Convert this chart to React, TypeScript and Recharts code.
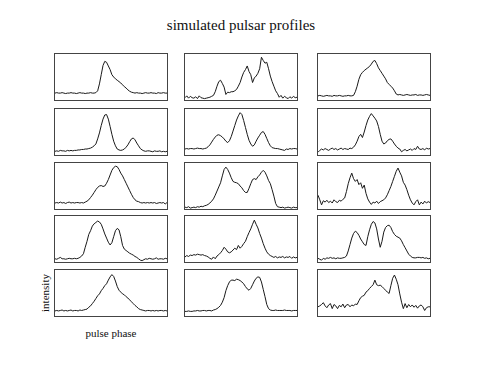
import { LineChart, Line, XAxis, YAxis } from "recharts";

// intensity per phase bin (64 bins), 0 = panel bottom, 1 = panel top
const profileA = [0.15, 0.16, 0.15, 0.15, 0.16, 0.15, 0.14, 0.15, 0.15, 0.16, 0.15, 0.15, 0.14, 0.15, 0.16, 0.15, 0.15, 0.14, 0.15, 0.15, 0.16, 0.15, 0.15, 0.16, 0.2, 0.35, 0.55, 0.75, 0.84, 0.82, 0.74, 0.66, 0.55, 0.5, 0.46, 0.43, 0.4, 0.37, 0.33, 0.29, 0.26, 0.22, 0.19, 0.17, 0.16, 0.15, 0.16, 0.15, 0.15, 0.14, 0.15, 0.16, 0.15, 0.15, 0.16, 0.15, 0.15, 0.14, 0.16, 0.15, 0.15, 0.16, 0.15, 0.15];
const profileB = [0.05, 0.09, 0.04, 0.08, 0.05, 0.04, 0.07, 0.03, 0.09, 0.05, 0.04, 0.03, 0.04, 0.05, 0.06, 0.08, 0.1, 0.18, 0.3, 0.4, 0.43, 0.36, 0.28, 0.12, 0.17, 0.16, 0.18, 0.18, 0.2, 0.23, 0.3, 0.38, 0.5, 0.6, 0.66, 0.74, 0.62, 0.55, 0.38, 0.48, 0.52, 0.58, 0.68, 0.93, 0.86, 0.8, 0.82, 0.68, 0.52, 0.4, 0.3, 0.2, 0.14, 0.06, 0.1, 0.04, 0.08, 0.05, 0.03, 0.07, 0.04, 0.08, 0.05, 0.06];
const profileC = [0.09, 0.1, 0.09, 0.08, 0.09, 0.1, 0.09, 0.09, 0.08, 0.1, 0.09, 0.09, 0.1, 0.09, 0.08, 0.09, 0.09, 0.1, 0.09, 0.09, 0.1, 0.18, 0.3, 0.45, 0.55, 0.6, 0.64, 0.67, 0.7, 0.73, 0.78, 0.84, 0.86, 0.79, 0.7, 0.64, 0.58, 0.52, 0.46, 0.38, 0.34, 0.3, 0.26, 0.2, 0.13, 0.11, 0.12, 0.11, 0.1, 0.11, 0.12, 0.11, 0.1, 0.11, 0.11, 0.12, 0.1, 0.11, 0.11, 0.1, 0.11, 0.12, 0.11, 0.1];
const profileD = [0.08, 0.09, 0.08, 0.1, 0.09, 0.09, 0.08, 0.1, 0.09, 0.1, 0.09, 0.1, 0.1, 0.11, 0.11, 0.12, 0.12, 0.13, 0.13, 0.14, 0.15, 0.17, 0.2, 0.24, 0.35, 0.48, 0.64, 0.78, 0.87, 0.88, 0.78, 0.62, 0.45, 0.3, 0.2, 0.13, 0.11, 0.1, 0.11, 0.13, 0.17, 0.22, 0.29, 0.35, 0.37, 0.33, 0.26, 0.2, 0.14, 0.11, 0.09, 0.08, 0.09, 0.09, 0.08, 0.07, 0.09, 0.08, 0.08, 0.09, 0.07, 0.08, 0.07, 0.08];
const profileE = [0.13, 0.14, 0.13, 0.14, 0.14, 0.13, 0.14, 0.15, 0.14, 0.14, 0.13, 0.14, 0.15, 0.18, 0.22, 0.28, 0.34, 0.39, 0.43, 0.44, 0.42, 0.39, 0.35, 0.3, 0.27, 0.31, 0.4, 0.52, 0.64, 0.76, 0.85, 0.92, 0.88, 0.75, 0.6, 0.45, 0.32, 0.24, 0.19, 0.22, 0.3, 0.37, 0.43, 0.49, 0.51, 0.45, 0.36, 0.27, 0.2, 0.16, 0.15, 0.14, 0.14, 0.13, 0.12, 0.11, 0.1, 0.13, 0.12, 0.14, 0.13, 0.14, 0.14, 0.13];
const profileF = [0.06, 0.1, 0.13, 0.11, 0.14, 0.12, 0.1, 0.13, 0.15, 0.12, 0.14, 0.11, 0.13, 0.15, 0.12, 0.14, 0.13, 0.12, 0.15, 0.14, 0.17, 0.22, 0.3, 0.4, 0.45, 0.38, 0.5, 0.64, 0.76, 0.84, 0.9, 0.85, 0.8, 0.74, 0.62, 0.45, 0.3, 0.24, 0.26, 0.31, 0.34, 0.35, 0.3, 0.24, 0.19, 0.15, 0.13, 0.07, 0.1, 0.12, 0.09, 0.11, 0.13, 0.1, 0.14, 0.12, 0.19, 0.13, 0.12, 0.14, 0.11, 0.15, 0.13, 0.14];
const profileG = [0.13, 0.14, 0.13, 0.15, 0.13, 0.14, 0.12, 0.14, 0.15, 0.13, 0.14, 0.13, 0.14, 0.14, 0.13, 0.14, 0.13, 0.15, 0.17, 0.2, 0.25, 0.3, 0.36, 0.42, 0.47, 0.5, 0.51, 0.49, 0.5, 0.56, 0.64, 0.74, 0.84, 0.9, 0.93, 0.92, 0.86, 0.78, 0.72, 0.64, 0.56, 0.48, 0.4, 0.32, 0.25, 0.2, 0.17, 0.16, 0.14, 0.13, 0.14, 0.13, 0.14, 0.13, 0.14, 0.13, 0.14, 0.12, 0.13, 0.14, 0.13, 0.14, 0.11, 0.14];
const profileH = [0.04, 0.03, 0.05, 0.02, 0.03, 0.04, 0.03, 0.05, 0.04, 0.06, 0.05, 0.07, 0.08, 0.1, 0.13, 0.17, 0.22, 0.3, 0.39, 0.48, 0.57, 0.72, 0.86, 0.91, 0.86, 0.78, 0.68, 0.6, 0.58, 0.57, 0.55, 0.5, 0.46, 0.4, 0.36, 0.36, 0.45, 0.55, 0.64, 0.66, 0.64, 0.7, 0.74, 0.8, 0.84, 0.8, 0.72, 0.62, 0.55, 0.42, 0.28, 0.12, 0.05, 0.04, 0.03, 0.04, 0.02, 0.03, 0.04, 0.03, 0.02, 0.04, 0.03, 0.03];
const profileI = [0.3, 0.2, 0.09, 0.18, 0.15, 0.19, 0.14, 0.17, 0.13, 0.2, 0.16, 0.14, 0.19, 0.17, 0.21, 0.24, 0.38, 0.55, 0.68, 0.78, 0.66, 0.6, 0.64, 0.53, 0.57, 0.45, 0.52, 0.34, 0.22, 0.15, 0.1, 0.15, 0.13, 0.17, 0.12, 0.16, 0.18, 0.2, 0.24, 0.31, 0.4, 0.49, 0.6, 0.71, 0.82, 0.89, 0.8, 0.72, 0.58, 0.52, 0.42, 0.3, 0.2, 0.13, 0.09, 0.16, 0.2, 0.09, 0.15, 0.11, 0.17, 0.13, 0.16, 0.14];
const profileJ = [0.07, 0.06, 0.08, 0.1, 0.07, 0.07, 0.06, 0.07, 0.08, 0.07, 0.07, 0.08, 0.07, 0.08, 0.1, 0.13, 0.18, 0.32, 0.45, 0.6, 0.68, 0.78, 0.83, 0.86, 0.89, 0.87, 0.82, 0.72, 0.61, 0.52, 0.43, 0.37, 0.42, 0.55, 0.68, 0.73, 0.7, 0.55, 0.36, 0.28, 0.25, 0.22, 0.19, 0.17, 0.15, 0.12, 0.1, 0.07, 0.04, 0.03, 0.05, 0.07, 0.06, 0.08, 0.07, 0.06, 0.07, 0.09, 0.06, 0.07, 0.07, 0.06, 0.08, 0.07];
const profileK = [0.11, 0.14, 0.12, 0.15, 0.14, 0.16, 0.15, 0.17, 0.16, 0.15, 0.16, 0.14, 0.13, 0.11, 0.08, 0.06, 0.11, 0.07, 0.13, 0.16, 0.2, 0.25, 0.32, 0.28, 0.22, 0.2, 0.22, 0.26, 0.3, 0.27, 0.36, 0.3, 0.34, 0.4, 0.45, 0.55, 0.64, 0.72, 0.82, 0.91, 0.82, 0.74, 0.62, 0.52, 0.4, 0.3, 0.22, 0.17, 0.14, 0.12, 0.1, 0.12, 0.09, 0.11, 0.1, 0.12, 0.09, 0.11, 0.1, 0.12, 0.08, 0.11, 0.09, 0.1];
const profileL = [0.08, 0.06, 0.04, 0.08, 0.06, 0.09, 0.08, 0.1, 0.08, 0.09, 0.07, 0.09, 0.08, 0.08, 0.09, 0.1, 0.13, 0.24, 0.38, 0.52, 0.62, 0.67, 0.64, 0.58, 0.5, 0.44, 0.38, 0.36, 0.55, 0.7, 0.82, 0.88, 0.85, 0.72, 0.5, 0.32, 0.45, 0.65, 0.75, 0.79, 0.8, 0.75, 0.66, 0.6, 0.56, 0.54, 0.52, 0.46, 0.38, 0.31, 0.24, 0.17, 0.13, 0.1, 0.09, 0.09, 0.1, 0.1, 0.09, 0.1, 0.08, 0.09, 0.07, 0.08];
const profileM = [0.11, 0.12, 0.11, 0.12, 0.13, 0.11, 0.12, 0.11, 0.12, 0.13, 0.11, 0.12, 0.12, 0.11, 0.13, 0.12, 0.13, 0.14, 0.15, 0.19, 0.22, 0.27, 0.32, 0.38, 0.44, 0.48, 0.55, 0.6, 0.66, 0.7, 0.78, 0.85, 0.9, 0.86, 0.76, 0.64, 0.56, 0.52, 0.48, 0.46, 0.42, 0.39, 0.35, 0.31, 0.27, 0.23, 0.2, 0.16, 0.14, 0.13, 0.12, 0.11, 0.12, 0.12, 0.11, 0.12, 0.11, 0.12, 0.11, 0.12, 0.12, 0.11, 0.12, 0.11];
const profileN = [0.1, 0.1, 0.11, 0.1, 0.1, 0.11, 0.11, 0.12, 0.11, 0.11, 0.12, 0.12, 0.11, 0.12, 0.12, 0.11, 0.13, 0.14, 0.16, 0.19, 0.23, 0.3, 0.4, 0.55, 0.66, 0.74, 0.78, 0.78, 0.77, 0.8, 0.79, 0.77, 0.74, 0.7, 0.64, 0.59, 0.56, 0.6, 0.68, 0.76, 0.82, 0.85, 0.84, 0.74, 0.58, 0.42, 0.25, 0.16, 0.13, 0.12, 0.12, 0.13, 0.12, 0.12, 0.12, 0.12, 0.13, 0.12, 0.12, 0.12, 0.11, 0.12, 0.12, 0.12];
const profileO = [0.2, 0.22, 0.25, 0.29, 0.22, 0.18, 0.24, 0.27, 0.16, 0.25, 0.22, 0.16, 0.23, 0.2, 0.26, 0.18, 0.24, 0.25, 0.2, 0.24, 0.22, 0.26, 0.25, 0.33, 0.4, 0.43, 0.45, 0.52, 0.55, 0.6, 0.64, 0.68, 0.78, 0.68, 0.66, 0.67, 0.64, 0.6, 0.56, 0.52, 0.49, 0.66, 0.82, 0.89, 0.8, 0.68, 0.48, 0.3, 0.16, 0.27, 0.18, 0.25, 0.2, 0.24, 0.19, 0.23, 0.17, 0.22, 0.24, 0.2, 0.12, 0.18, 0.2, 0.2];

// row by row, left to right
const profiles = [
  profileA, profileB, profileC,
  profileD, profileE, profileF,
  profileG, profileH, profileI,
  profileJ, profileK, profileL,
  profileM, profileN, profileO,
];

const title = "simulated pulsar profiles";
const xLabel = "pulse phase";
const yLabel = "intensity";

const colLefts = [55, 185, 318];
const rowTops = [54, 109, 163, 216, 270];
const panelW = 112;
const panelH = 46;
const serif = "'Liberation Serif', 'DejaVu Serif', serif";

const Panel = ({ values }: { values: number[] }) => {
  const data = values.map((v, i) => ({ phase: i, intensity: v }));
  return (
    <LineChart width={panelW} height={panelH} data={data} margin={{ top: 0, right: 0, bottom: 0, left: 0 }}>
      <XAxis dataKey="phase" type="number" domain={[0, values.length - 1]} hide />
      <YAxis type="number" domain={[0, 1]} hide />
      <Line
        dataKey="intensity"
        stroke="#1a1a1a"
        strokeWidth={1}
        dot={false}
        isAnimationActive={false}
      />
    </LineChart>
  );
};

export default function App() {
  return (
    <div style={{ position: "absolute", left: 0, top: 0, width: 480, height: 371, background: "#fff" }}>
      <svg width={480} height={371} style={{ position: "absolute", left: 0, top: 0 }}>
        <text x={241} y={30} textAnchor="middle" fontFamily={serif} fontSize={15} fill="#111">
          {title}
        </text>
        <text x={111} y={337} textAnchor="middle" fontFamily={serif} fontSize={11} fill="#111">
          {xLabel}
        </text>
        <text
          x={0}
          y={0}
          transform="translate(49 293) rotate(-90)"
          textAnchor="middle"
          fontFamily={serif}
          fontSize={11}
          fill="#111"
        >
          {yLabel}
        </text>
      </svg>
      {profiles.map((p, k) => (
        <div
          key={k}
          style={{
            position: "absolute",
            left: colLefts[k % 3],
            top: rowTops[Math.floor(k / 3)],
            width: panelW,
            height: panelH,
            outline: "1px solid #444",
          }}
        >
          <Panel values={p} />
        </div>
      ))}
    </div>
  );
}
